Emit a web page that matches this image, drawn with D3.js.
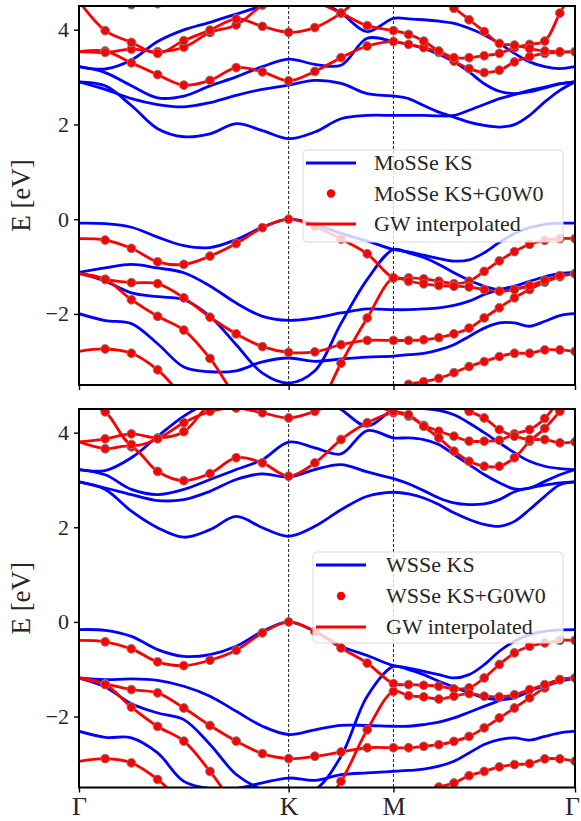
<!DOCTYPE html>
<html>
<head>
<meta charset="utf-8">
<script src="https://cdn.jsdelivr.net/npm/d3@7"></script>
<style>
  body { margin: 0; background: #fff; }
  svg text { font-family: "Liberation Serif", "Times New Roman", Times, serif !important; fill: #262626; }
</style>
</head>
<body>
<svg id="chart" width="581" height="821"></svg>
<script>
// k-path Γ → K → M → Γ (path length, arbitrary units); 8 / 4 / 12 steps per segment
const kPath = [0, 0.1667, 0.3333, 0.5, 0.6667, 0.8333, 1.0, 1.1667, 1.3333,
               1.5, 1.6667, 1.8333, 2.0,
               2.0962, 2.1925, 2.2887, 2.3849, 2.4811, 2.5774, 2.6736, 2.7698, 2.8660, 2.9623, 3.0585, 3.1547];
const kTicks = [0, 1.3333, 2.0, 3.1547];
const kTickLabels = ["Γ", "K", "M", "Γ"];
const energyTicks = [-2, 0, 2, 4];

// MoSSe Kohn-Sham bands (eV)
const mosseKS = [
  [-0.085,-0.095,-0.17,-0.38,-0.56,-0.60,-0.43,-0.17,0.0, -0.105,-0.30,-0.46,-0.64, -0.69,-0.76,-0.83,-0.885,-0.86,-0.71,-0.49,-0.30,-0.18,-0.11,-0.085,-0.085],
  [-1.125,-1.31,-1.555,-1.635,-1.70,-2.05,-2.65,-3.25,-3.46, -3.2,-2.2,-1.27,-0.64, -0.71,-0.81,-0.955,-1.13,-1.29,-1.415,-1.485,-1.47,-1.415,-1.31,-1.20,-1.125],
  [-1.125,-1.03,-0.955,-1.03,-1.13,-1.41,-1.77,-2.05,-2.135, -2.085,-1.98,-1.895,-1.91, -1.91,-1.895,-1.87,-1.82,-1.73,-1.59,-1.485,-1.415,-1.31,-1.215,-1.145,-1.125],
  [-1.995,-2.14,-2.205,-2.63,-3.12,-3.22,-3.20,-3.01,-2.93, -3.0,-2.95,-2.91,-2.89, -2.86,-2.83,-2.76,-2.65,-2.475,-2.30,-2.19,-2.19,-2.26,-2.155,-2.035,-1.995],
  [2.90,2.815,2.40,1.91,1.74,1.80,2.015,1.87,1.70, 1.84,2.12,2.19,2.19, 2.19,2.19,2.18,2.19,2.30,2.42,2.545,2.63,2.72,2.79,2.86,2.90],
  [2.90,2.74,2.545,2.42,2.37,2.46,2.615,2.74,2.83, 2.93,2.865,2.65,2.60, 2.545,2.40,2.26,2.155,2.05,1.98,1.945,1.995,2.19,2.475,2.72,2.90],
  [3.22,3.095,2.815,2.56,2.60,2.815,3.005,3.22,3.38, 3.27,3.25,3.82,3.75, 3.69,3.605,3.48,3.32,3.11,2.86,2.70,2.65,2.69,2.77,2.855,2.90],
  [3.22,3.17,3.36,3.75,3.995,4.155,4.33,4.51,4.75, 4.65,4.35,3.96,4.24, 4.23,4.21,4.18,4.135,4.03,3.89,3.71,3.50,3.32,3.22,3.18,3.22]
];

// MoSSe GW quasiparticle bands (eV)
const mosseGW = [
  [-0.41,-0.44,-0.615,-0.90,-0.955,-0.78,-0.515,-0.18,0.0, -0.155,-0.42,-0.73,-1.24, -1.24,-1.26,-1.31,-1.36,-1.31,-1.10,-0.88,-0.685,-0.53,-0.445,-0.41,-0.41],
  [-1.15,-1.27,-1.34,-1.36,-1.66,-2.07,-2.42,-2.69,-2.81, -2.80,-2.65,-2.56,-2.56, -2.56,-2.545,-2.50,-2.42,-2.30,-2.085,-1.87,-1.66,-1.485,-1.33,-1.215,-1.15],
  [-1.15,-1.27,-1.70,-2.05,-2.34,-2.94,-3.75,-4.3,-4.6, -4.1,-3.04,-2.085,-1.24, -1.31,-1.365,-1.40,-1.415,-1.43,-1.485,-1.52,-1.485,-1.40,-1.29,-1.19,-1.15],
  [-2.79,-2.74,-2.83,-3.18,-3.75,-4.2,-4.5,-4.7,-4.75, -4.5,-4.2,-3.9,-3.6, -3.485,-3.43,-3.36,-3.24,-3.11,-3.005,-2.90,-2.83,-2.83,-2.76,-2.76,-2.79],
  [3.535,3.55,3.30,3.05,2.83,2.93,3.20,3.11,2.92, 3.12,3.41,3.655,3.75, 3.69,3.62,3.52,3.335,3.18,3.095,3.145,3.32,3.43,3.50,3.52,3.535],
  [3.535,3.52,3.59,3.535,3.63,3.94,4.10,4.52,4.8, 4.6,4.35,4.085,3.98, 3.90,3.76,3.55,3.41,3.41,3.45,3.50,3.62,3.69,3.76,4.35,4.9],
  [4.6,3.98,3.73,3.50,3.77,3.99,4.23,4.07,3.945, 4.045,4.35,4.8,5.0, 4.9,4.75,4.6,4.45,4.21,3.96,3.71,3.675,3.60,3.55,3.535,3.535],
  [4.8,4.62,4.53,4.55,4.75,5.0,5.2,5.3,5.3, 5.3,5.3,5.3,5.3, 5.3,5.3,5.3,5.3,5.3,5.3,5.3,5.3,5.3,5.3,5.3,5.3]
];

// WSSe Kohn-Sham bands (eV)
const wsseKS = [
  [-0.163,-0.178,-0.305,-0.585,-0.73,-0.69,-0.515,-0.2,0.0, -0.2,-0.515,-0.71,-0.925, -0.975,-1.045,-1.115,-1.185,-1.115,-0.905,-0.62,-0.41,-0.27,-0.2,-0.17,-0.163],
  [-1.185,-1.375,-1.73,-1.925,-2.065,-2.59,-3.225,-3.54,-3.65, -3.55,-2.84,-1.57,-0.94, -1.01,-1.115,-1.255,-1.375,-1.50,-1.605,-1.64,-1.605,-1.465,-1.325,-1.235,-1.185],
  [-1.185,-1.22,-1.205,-1.235,-1.36,-1.57,-1.89,-2.205,-2.38, -2.28,-2.185,-2.19,-2.205, -2.205,-2.17,-2.12,-2.03,-1.91,-1.785,-1.665,-1.56,-1.445,-1.36,-1.255,-1.185],
  [-2.31,-2.44,-2.45,-2.77,-3.37,-3.52,-3.52,-3.40,-3.30, -3.35,-3.23,-3.19,-3.16, -3.14,-3.11,-3.05,-2.945,-2.77,-2.59,-2.49,-2.45,-2.50,-2.42,-2.345,-2.31],
  [2.96,2.80,2.34,1.99,1.79,1.95,2.23,1.99,1.81, 2.02,2.37,2.655,2.74, 2.705,2.62,2.48,2.305,2.165,2.06,2.02,2.125,2.375,2.655,2.90,2.96],
  [2.96,2.83,2.69,2.565,2.585,2.76,3.01,3.13,3.06, 3.22,3.325,3.17,3.03, 2.92,2.775,2.62,2.515,2.48,2.495,2.585,2.75,2.83,2.89,2.94,2.96],
  [3.22,3.11,2.80,2.69,2.80,3.01,3.22,3.43,3.80, 3.68,3.55,4.045,3.89, 3.89,3.855,3.75,3.535,3.325,3.115,2.94,2.81,2.83,2.97,3.11,3.22],
  [3.22,3.20,3.47,3.92,4.35,4.66,4.9,5.0,5.0, 4.8,4.49,4.135,4.49, 4.51,4.51,4.47,4.38,4.205,4.0,3.785,3.575,3.395,3.29,3.24,3.22]
];

// WSSe GW quasiparticle bands (eV)
const wsseGW = [
  [-0.39,-0.42,-0.57,-0.845,-0.925,-0.81,-0.60,-0.23,0.0, -0.2,-0.55,-0.87,-1.305, -1.325,-1.34,-1.36,-1.415,-1.395,-1.185,-0.90,-0.655,-0.515,-0.445,-0.39,-0.39],
  [-1.185,-1.31,-1.43,-1.50,-1.82,-2.19,-2.52,-2.785,-2.89, -2.84,-2.75,-2.66,-2.66, -2.66,-2.63,-2.595,-2.525,-2.42,-2.24,-2.03,-1.82,-1.605,-1.395,-1.22,-1.185],
  [-1.185,-1.325,-1.80,-2.21,-2.52,-3.16,-3.9,-4.4,-4.6, -4.1,-3.37,-2.28,-1.47, -1.56,-1.585,-1.63,-1.57,-1.515,-1.57,-1.585,-1.54,-1.43,-1.325,-1.22,-1.185],
  [-2.95,-2.89,-2.98,-3.33,-3.85,-4.3,-4.6,-4.8,-4.85, -4.6,-4.3,-4.1,-3.9, -3.75,-3.6,-3.49,-3.405,-3.25,-3.16,-3.065,-3.015,-2.995,-2.895,-2.895,-2.945],
  [3.805,3.66,3.70,3.18,2.985,3.135,3.47,3.36,3.08, 3.36,3.855,4.21,4.42, 4.35,4.155,4.03,3.925,3.82,3.82,3.84,3.975,4.065,4.3,4.7,5.0],
  [3.805,3.87,3.975,3.89,4.02,4.6,4.8,4.7,4.6, 4.6,4.7,4.6,4.45, 4.38,4.135,3.89,3.61,3.395,3.29,3.29,3.47,3.82,4.09,4.45,4.8],
  [4.7,4.44,3.75,3.87,4.21,4.45,4.52,4.42,4.31, 4.45,4.7,4.9,5.0, 4.9,4.8,4.7,4.6,4.45,4.31,4.065,3.925,3.855,3.855,3.785,3.805]
];

const panels = [
  { ks: mosseKS, gw: mosseGW, top: 6, bottom: 385, showX: false,
    legend: { x: 303, y: 150, w: 260, h: 92, rows: [163, 193.5, 224], hx: 306, tx: 374 },
    names: ["MoSSe KS", "MoSSe KS+G0W0", "GW interpolated"] },
  { ks: wsseKS, gw: wsseGW, top: 409, bottom: 787.5, showX: true,
    legend: { x: 313, y: 552, w: 250, h: 91, rows: [565, 596, 627], hx: 316, tx: 386 },
    names: ["WSSe KS", "WSSe KS+G0W0", "GW interpolated"] }
];

const SERIF = "'Liberation Serif', 'Times New Roman', Times, serif";
const svg = d3.select("#chart");
const left = 79, right = 575;
const x = d3.scaleLinear().domain([kTicks[0], kTicks[3]]).range([left, right]);
const BLUE = "#0000ff", RED = "#ff0000";

panels.forEach((p, pi) => {
  const y = d3.scaleLinear().domain([-3.5, 4.5]).range([p.bottom, p.top]);
  const g = svg.append("g");
  const clipId = "clip" + pi;
  svg.append("clipPath").attr("id", clipId).append("rect")
    .attr("x", left).attr("y", p.top).attr("width", right - left).attr("height", p.bottom - p.top);

  const plot = g.append("g").attr("clip-path", `url(#${clipId})`);

  // high-symmetry markers
  plot.selectAll("line.hs").data(kTicks.slice(1, 3)).join("line")
    .attr("x1", d => x(d)).attr("x2", d => x(d))
    .attr("y1", p.top).attr("y2", p.bottom)
    .attr("stroke", "#000").attr("stroke-width", 0.9).attr("stroke-dasharray", "3,2");

  const line = d3.line()
    .x((d, i) => x(kPath[i]))
    .y(d => y(d))
    .curve(d3.curveCatmullRom.alpha(0.5));

  plot.selectAll("path.ks").data(p.ks).join("path")
    .attr("d", line).attr("fill", "none")
    .attr("stroke", BLUE).attr("stroke-width", 2.8);

  plot.selectAll("path.gw").data(p.gw).join("path")
    .attr("d", line).attr("fill", "none")
    .attr("stroke", RED).attr("stroke-width", 2.8);

  const dots = [];
  p.gw.forEach(band => band.forEach((e, i) => { if (i > 0) dots.push([kPath[i], e]); }));
  plot.selectAll("circle.gw").data(dots).join("circle")
    .attr("cx", d => x(d[0])).attr("cy", d => y(d[1])).attr("r", 4.4)
    .attr("fill", RED).attr("stroke", "#808080").attr("stroke-width", 1);

  // axes
  const ya = d3.axisLeft(y).tickValues(energyTicks).tickSize(5).tickPadding(5).tickFormat(d3.format("d"));
  const yg = g.append("g").attr("transform", `translate(${left},0)`).call(ya);
  yg.attr("font-family", null);
  yg.select(".domain").remove();
  yg.selectAll(".tick line").attr("stroke", "#000").attr("stroke-width", 1.4);
  yg.selectAll(".tick text").attr("font-size", 22).style("font-family", SERIF).attr("fill", "#262626");

  const xa = d3.axisBottom(x).tickValues(kTicks).tickSize(5).tickPadding(8)
    .tickFormat((d, i) => p.showX ? kTickLabels[i] : "");
  const xg = g.append("g").attr("transform", `translate(0,${p.bottom})`).call(xa);
  xg.attr("font-family", null);
  xg.select(".domain").remove();
  xg.selectAll(".tick line").attr("stroke", "#000").attr("stroke-width", 1.4);
  xg.selectAll(".tick text").attr("font-size", 26).style("font-family", SERIF)
    .attr("fill", "#262626").attr("y", 27.5).attr("dy", 0)
    .attr("dx", (d, i) => i === kTicks.length - 1 ? -3 : 0);

  g.append("rect").attr("x", left).attr("y", p.top)
    .attr("width", right - left).attr("height", p.bottom - p.top)
    .attr("fill", "none").attr("stroke", "#000").attr("stroke-width", 2);

  g.append("text").attr("transform", `translate(30,${(p.top + p.bottom) / 2}) rotate(-90)`)
    .attr("text-anchor", "middle").attr("font-size", 27).style("font-family", SERIF).text("E [eV]");

  // legend
  const L = p.legend;
  const lg = g.append("g");
  lg.append("rect").attr("x", L.x).attr("y", L.y).attr("width", L.w).attr("height", L.h)
    .attr("rx", 4).attr("fill", "#fff").attr("fill-opacity", 0.8)
    .attr("stroke", "#d9d9d9").attr("stroke-width", 1);
  lg.append("line").attr("x1", L.hx).attr("x2", L.hx + 50).attr("y1", L.rows[0]).attr("y2", L.rows[0])
    .attr("stroke", BLUE).attr("stroke-width", 2.8);
  lg.append("circle").attr("cx", L.hx + 25).attr("cy", L.rows[1]).attr("r", 4.2).attr("fill", RED);
  lg.append("line").attr("x1", L.hx).attr("x2", L.hx + 50).attr("y1", L.rows[2]).attr("y2", L.rows[2])
    .attr("stroke", RED).attr("stroke-width", 2.8);
  lg.selectAll("text.lab").data(p.names).join("text")
    .attr("x", L.tx).attr("y", (d, i) => L.rows[i]).attr("dy", "0.33em")
    .attr("font-size", 22).style("font-family", SERIF).text(d => d);
});
</script>
</body>
</html>
